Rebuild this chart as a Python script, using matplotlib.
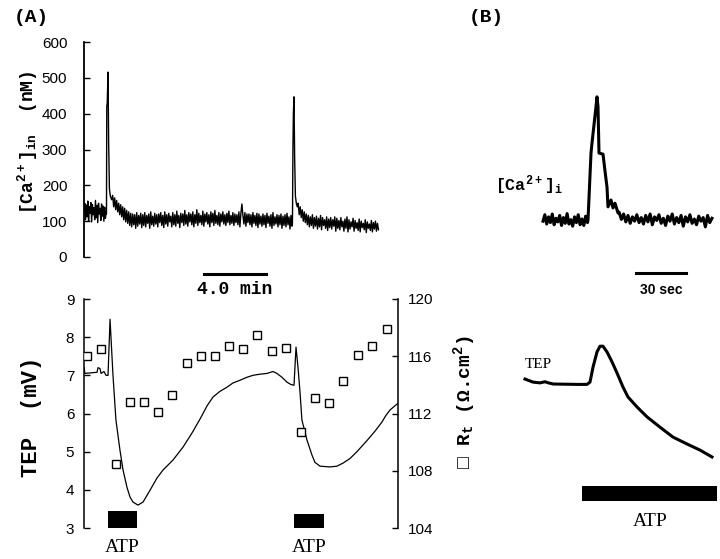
import numpy as np
import matplotlib
matplotlib.use("Agg")
import matplotlib.pyplot as plt

plt.rcParams["mathtext.default"] = "regular"

# ---- panel A, top: [Ca2+]in trace (time in min, nM) ----
ca_seg1 = [128, 150, 104, 145, 112, 156, 100, 140, 122, 152, 98, 146, 118,
           138, 104, 158, 110, 144, 96, 150, 120, 136, 102, 148, 114, 142,
           100, 139, 108, 126]
ca_spk1_t = [1.45, 1.47, 1.50, 1.55, 1.59, 1.64, 1.70, 1.78]
ca_spk1 = [120, 420, 430, 516, 320, 190, 170, 160]
ca_seg2 = [172, 140, 165, 132, 158, 126, 150, 118, 146, 112, 140, 104, 136, 98, 130,
           94, 126, 88, 122, 84, 120, 90, 118, 80, 124, 86, 116, 92, 122, 82,
           118, 88, 124, 84, 116, 94, 120, 80, 126, 90, 114, 86, 122, 92, 118,
           84, 120, 96, 124, 88, 116, 82, 126, 92, 118, 86, 122, 98, 114, 84,
           124, 90, 118, 86, 128, 94, 116, 82, 122, 96, 120, 88, 130, 92, 118,
           86, 124, 98, 120, 90, 126, 84, 118, 94, 132, 88, 122, 96, 116, 90,
           128, 86, 120, 98, 124, 92, 118, 84, 126, 96, 122, 88, 130, 94, 116,
           90, 124, 86, 120, 98, 126, 92, 118, 88, 122, 96, 128, 90, 116, 94,
           124, 88, 120, 96, 118, 90, 126, 84, 122, 148, 116, 92, 124, 86, 120,
           96, 120, 90, 118, 84, 124, 94, 116, 88, 122, 82, 120, 92, 114, 86,
           120, 90, 116, 82, 122, 94, 114, 86, 118, 80, 124, 88, 112, 92, 118,
           84, 116, 90, 120, 80, 114, 88, 118, 84, 122, 90, 112, 78, 116, 86]
ca_spk2_t = [13.45, 13.48, 13.51, 13.55, 13.59, 13.64, 13.70, 13.76]
ca_spk2 = [95, 300, 400, 447, 280, 170, 150, 140]
ca_seg3 = [150, 118, 140, 110, 132, 100, 126, 96, 120, 90,
           116, 84, 112, 88, 118, 80, 110, 86, 114, 78,
           108, 84, 116, 76, 110, 88, 104, 80, 112, 74,
           106, 82, 110, 78, 104, 86, 112, 72, 108, 80,
           102, 76, 110, 84, 100, 72, 106, 80, 112, 70,
           104, 78, 98, 84, 108, 72, 102, 80, 96, 74,
           106, 70, 100, 82, 94, 76, 104, 68, 98, 80,
           92, 74, 102, 70, 96, 78, 100, 72, 94, 76]

# ---- panel A, bottom: TEP (mV) and Rt (ohm.cm2) ----
tep_t = [0.0, 0.06, 0.84, 0.90, 1.03, 1.10, 1.29, 1.42, 1.55, 1.68, 1.87,
         2.06, 2.32, 2.52, 2.77, 2.97, 3.16, 3.48, 3.81, 4.26, 4.71, 5.10,
         5.74, 6.39, 6.97, 7.48, 7.94, 8.32, 8.77, 9.23, 9.61, 10.06, 10.52,
         10.90, 11.35, 11.81, 12.19, 12.45, 12.77, 13.10, 13.35, 13.55,
         13.68, 13.81, 13.94, 14.06, 14.39, 14.71, 14.90, 15.23, 15.87,
         16.32, 16.71, 17.16, 17.61, 18.06, 18.45, 18.84, 19.23, 19.48,
         19.74, 20.0, 20.26]
tep = [7.2, 7.05, 7.08, 7.2, 7.18, 7.05, 7.1, 7.0, 7.0, 8.47, 7.0,
       5.83, 5.04, 4.52, 4.07, 3.81, 3.68, 3.6, 3.68, 3.99, 4.31, 4.52,
       4.78, 5.12, 5.49, 5.85, 6.2, 6.43, 6.58, 6.69, 6.80, 6.87, 6.95,
       7.0, 7.03, 7.05, 7.1, 7.05, 6.95, 6.82, 6.76, 6.74,
       7.74, 7.2, 6.55, 5.83, 5.3, 4.91, 4.72, 4.62, 4.6,
       4.62, 4.70, 4.82, 5.0, 5.2, 5.38, 5.57, 5.78, 5.95,
       6.09, 6.18, 6.27]
rt_t = [0.19, 1.10, 2.06, 2.97, 3.87, 4.77, 5.68, 6.65, 7.55, 8.45, 9.35,
        10.26, 11.16, 12.13, 13.03, 14.0, 14.90, 15.81, 16.71, 17.68,
        18.58, 19.55]
rt = [116.0, 116.5, 108.5, 112.8, 112.8, 112.1, 113.3, 115.5, 116.0, 116.0,
      116.7, 116.5, 117.5, 116.4, 116.6, 110.7, 113.1, 112.7, 114.3, 116.1,
      116.7, 117.9]
atp_a_start = [1.55, 13.55]
atp_a_len = [1.87, 1.93]
atp_a_top = [3.45, 3.37]

# ---- panel B (time in s) ----
cab_pre = [100, 118, 92, 112, 96, 120, 90, 108, 98, 116, 88, 110, 94,
           121, 92, 104, 86, 112, 96, 118, 90, 106, 88, 114, 96]
cab_pk_t = [40.8, 42.6, 43.2, 45.6, 46.2, 46.8, 47.4, 49.8, 51.0, 52.2,
            52.8, 54.6, 55.8, 57.0, 58.8]
cab_pk = [103, 290, 318, 420, 447, 419, 290, 287, 240, 195, 140, 159,
          137, 150, 123]
cab_post = [125, 105, 120, 98, 116, 94, 112, 100, 118, 96, 110, 92, 116,
            98, 120, 90, 112, 102, 118, 94, 108, 88, 114, 100, 120, 92,
            110, 96, 116, 86, 112, 98, 118, 94, 106, 90, 114, 100, 110,
            84, 116, 96, 108]
tepb_t = [3.0, 7.8, 12.0, 15.0, 17.0, 20.0, 34.8, 40.2, 42.0, 43.8, 46.2,
          48.0, 49.8, 52.2, 55.2, 58.2, 61.8, 64.8, 70.2, 76.2, 84.0, 91.8,
          100.2, 108.0, 115.2]
tepb = [6.90, 6.82, 6.80, 6.83, 6.80, 6.77, 6.76, 6.76, 6.82, 7.21, 7.61,
        7.76, 7.76, 7.61, 7.35, 7.06, 6.69, 6.43, 6.17, 5.91, 5.64, 5.38,
        5.20, 5.04, 4.86]
atp_b = [37.2, 118.2]


def px(x0, y0, x1, y1):
    return [x0 / 720, 1 - y1 / 559, (x1 - x0) / 720, (y1 - y0) / 559]


mono = "Liberation Mono"
sans = "Liberation Sans"
serif = "Liberation Serif"

fig = plt.figure(figsize=(7.2, 5.59), dpi=100)

# A top
ax1 = fig.add_axes(px(84, 42, 398, 257))
ca_t = np.concatenate([np.linspace(0, 1.43, len(ca_seg1)), ca_spk1_t,
                       np.linspace(1.85, 13.42, len(ca_seg2)), ca_spk2_t,
                       np.linspace(13.82, 19.0, len(ca_seg3))])
ca = np.concatenate([ca_seg1, ca_spk1, ca_seg2, ca_spk2, ca_seg3])
ax1.plot(ca_t, ca, color="black", lw=1.0)
ax1.set_xlim(0, 20.26)
ax1.set_ylim(0, 600)
ax1.set_yticks([0, 100, 200, 300, 400, 500, 600])
for s in ["top", "right", "bottom"]:
    ax1.spines[s].set_visible(False)
ax1.spines["left"].set_linewidth(1.3)
ax1.set_xticks([])
ax1.tick_params(axis="y", direction="in", length=4, width=1, pad=12,
                labelsize=11)
for lab in ax1.get_yticklabels():
    lab.set_fontfamily(sans)
ax1.plot([7.74, 11.74], [-47, -47], color="black", lw=2.2, clip_on=False)
ax1.text(9.74, -92, "4.0 min", ha="center", va="center", fontsize=13,
         family=mono, fontweight="bold")

# A bottom
ax2 = fig.add_axes(px(84, 299, 398, 528))
ax2.plot(tep_t, tep, color="black", lw=0.9)
ax2.bar(atp_a_start, [h - 3 for h in atp_a_top], width=atp_a_len, bottom=3,
        align="edge", color="black")
ax2.set_xlim(0, 20.26)
ax2.set_ylim(3, 9)
for s in ["top", "right", "bottom"]:
    ax2.spines[s].set_visible(False)
ax2.spines["left"].set_linewidth(1.1)
ax2.set_xticks([])
ax2.tick_params(axis="y", direction="in", length=4, width=1, pad=7,
                labelsize=11)
for lab in ax2.get_yticklabels():
    lab.set_fontfamily(sans)
for x0, w in zip(atp_a_start, atp_a_len):
    ax2.text(x0 + w / 2, 2.48, "ATP", ha="center", va="center",
             fontsize=14, family=serif)

ax3 = ax2.twinx()
ax3.plot(rt_t, rt, ls="none", marker="s", ms=6, mfc="white", mec="black",
         mew=1.0)
ax3.set_ylim(104, 120)
ax3.set_yticks([104, 108, 112, 116, 120])
for s in ["top", "left", "bottom"]:
    ax3.spines[s].set_visible(False)
ax3.spines["right"].set_linewidth(1.1)
ax3.tick_params(axis="y", direction="in", length=4, width=1, pad=7,
                labelsize=11)
for lab in ax3.get_yticklabels():
    lab.set_fontfamily(sans)

# B top
ax4 = fig.add_axes(px(520, 42, 720, 257))
cab_t = np.concatenate([np.linspace(13.8, 40.5, len(cab_pre)), cab_pk_t,
                        np.linspace(59.5, 115.2, len(cab_post))])
cab = np.concatenate([cab_pre, cab_pk, cab_post])
ax4.plot(cab_t, cab, color="black", lw=2.2)
ax4.set_xlim(0, 120)
ax4.set_ylim(0, 600)
ax4.axis("off")
ax4.plot([69.6, 99.6], [-45, -45], color="black", lw=2.2, clip_on=False)
ax4.text(84.6, -92, "30 sec", ha="center", va="center", fontsize=10,
         family=sans, fontweight="bold")

# B bottom
ax5 = fig.add_axes(px(520, 329.4, 720, 543.3))
ax5.plot(tepb_t, tepb, color="black", lw=2.2)
ax5.bar(atp_b[0], 0.39, width=atp_b[1] - atp_b[0], bottom=3.71,
        align="edge", color="black")
ax5.set_xlim(0, 120)
ax5.set_ylim(2.6, 8.2)
ax5.axis("off")
ax5.text(78, 3.16, "ATP", ha="center", va="center", fontsize=14,
         family=serif)
ax5.text(3, 7.27, "TEP", ha="left", va="center", fontsize=11,
         family=serif)

# labels
fig.text(28 / 720, 1 - 142 / 559, "[Ca$^{2+}$]$_{in}$  (nM)", rotation=90,
         ha="center", va="center", fontsize=13, family=mono,
         fontweight="bold")
fig.text(31 / 720, 1 - 417 / 559, "TEP  (mV)", rotation=90,
         ha="center", va="center", fontsize=16, family=mono,
         fontweight="bold")
fig.text(465 / 720, 1 - 402 / 559, "\u25a1 R$_t$ (\u03a9.cm$^2$)",
         rotation=90, ha="center", va="center", fontsize=14, family=mono,
         fontweight="bold")
fig.text(529 / 720, 1 - 185 / 559, "[Ca$^{2+}$]$_i$", ha="center",
         va="center", fontsize=12, family=mono, fontweight="bold")
fig.text(31 / 720, 1 - 18 / 559, "(A)", ha="center", va="center",
         fontsize=14, family=mono, fontweight="bold")
fig.text(486 / 720, 1 - 18 / 559, "(B)", ha="center", va="center",
         fontsize=14, family=mono, fontweight="bold")

fig.savefig("out.png", dpi=100)
